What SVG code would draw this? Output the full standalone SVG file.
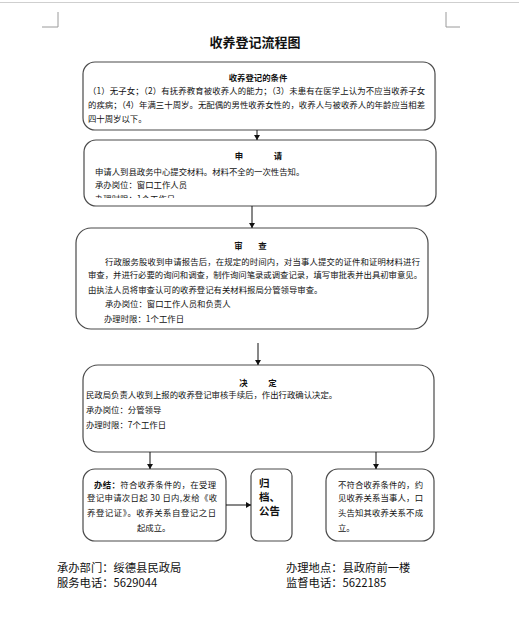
<svg xmlns="http://www.w3.org/2000/svg" width="519" height="627" viewBox="0 0 519 627">
<style>
text{font-family:"Noto Sans CJK SC","Noto Sans",sans-serif;fill:#111;}
.t{font-size:8.4px;}
.b{font-weight:bold;}
.box{fill:#fff;stroke:#4a4a4a;stroke-width:1.2;}
.con line{stroke:#111;stroke-width:1;}
.mark{stroke:#9a9a9a;stroke-width:1;fill:none;}
.ft{font-size:11.3px;}
</style>
<defs>
<marker id="ah" markerUnits="userSpaceOnUse" markerWidth="6" markerHeight="6" refX="5" refY="3" orient="auto">
<path d="M0,0 L5,3 L0,6 Z" fill="#111"/>
</marker>
<clipPath id="clip2"><rect x="84" y="188" width="350" height="10"/></clipPath>
</defs>
<rect x="0" y="0" width="519" height="627" fill="#fff"/>
<line x1="0" y1="2.5" x2="519" y2="2.5" stroke="#cfcfcf" stroke-width="1"/>
<path class="mark" d="M58,12 V27 H42"/>
<path class="mark" d="M446,12 V27 H460"/>
<text x="255" y="47" text-anchor="middle" style="font-size:13px;font-weight:bold">收养登记流程图</text>

<g id="conditions">
<rect class="box" x="83" y="62" width="352" height="68" rx="12"/>
<text class="t b" x="258" y="80.5" text-anchor="middle">收养登记的条件</text>
<text class="t" x="88" y="94" textLength="337" lengthAdjust="spacing">（1）无子女；（2）有抚养教育被收养人的能力；（3）未患有在医学上认为不应当收养子女</text>
<text class="t" x="88" y="108" textLength="337" lengthAdjust="spacing">的疾病；（4）年满三十周岁。无配偶的男性收养女性的，收养人与被收养人的年龄应当相差</text>
<text class="t" x="88" y="122">四十周岁以下。</text>
</g>

<g id="apply">
<rect class="box" x="84" y="140" width="352" height="66" rx="12"/>
<text class="t b" x="239" y="158.5" text-anchor="middle">申</text>
<text class="t b" x="278" y="158.5" text-anchor="middle">请</text>
<text class="t" x="95" y="174.5">申请人到县政务中心提交材料。材料不全的一次性告知。</text>
<text class="t" x="95" y="187.5">承办岗位：窗口工作人员</text>
<text class="t" x="95" y="202" clip-path="url(#clip2)">办理时限：1个工作日</text>
</g>

<g id="review">
<rect class="box" x="76" y="228" width="352" height="101" rx="15"/>
<text class="t b" x="238.5" y="248.5" text-anchor="middle">审</text>
<text class="t b" x="262.5" y="248.5" text-anchor="middle">查</text>
<text class="t" x="105" y="264.5" textLength="315" lengthAdjust="spacing">行政服务股收到申请报告后，在规定的时间内，对当事人提交的证件和证明材料进行</text>
<text class="t" x="88" y="278" textLength="334" lengthAdjust="spacing">审查，并进行必要的询问和调查，制作询问笔录或调查记录，填写审批表并出具初审意见。</text>
<text class="t" x="88" y="292.5">由执法人员将审查认可的收养登记有关材料报局分管领导审查。</text>
<text class="t" x="105" y="307">承办岗位：窗口工作人员和负责人</text>
<text class="t" x="104" y="322">办理时限：1个工作日</text>
</g>

<g id="decide">
<rect class="box" x="83" y="365" width="351" height="87" rx="15"/>
<text class="t b" x="243.5" y="385.5" text-anchor="middle">决</text>
<text class="t b" x="272.5" y="385.5" text-anchor="middle">定</text>
<text class="t" x="86" y="397.5">民政局负责人收到上报的收养登记审核手续后，作出行政确认决定。</text>
<text class="t" x="86" y="412.5">承办岗位：分管领导</text>
<text class="t" x="86" y="427.5">办理时限：7个工作日</text>
</g>

<g id="complete">
<rect class="box" x="83" y="469" width="143" height="72" rx="12"/>
<text class="t" x="94" y="487.5" textLength="122" lengthAdjust="spacing"><tspan class="b">办结：</tspan>符合收养条件的，在受理</text>
<text class="t" x="87" y="501" textLength="130" lengthAdjust="spacing">登记申请次日起 30 日内,发给《收</text>
<text class="t" x="87" y="515.5" textLength="129" lengthAdjust="spacing">养登记证》。收养关系自登记之日</text>
<text class="t" x="137" y="530.5">起成立。</text>
</g>

<g id="archive">
<rect class="box" x="251" y="469" width="41" height="72" rx="7"/>
<text style="font-size:10.5px;font-weight:bold"><tspan x="259" y="487">归</tspan><tspan x="259" y="501">档、</tspan><tspan x="259" y="515">公告</tspan></text>
</g>

<g id="reject">
<rect class="box" x="326" y="469" width="108" height="72" rx="12"/>
<text class="t" x="338" y="487.5" textLength="85" lengthAdjust="spacing">不符合收养条件的，约</text>
<text class="t" x="338" y="501" textLength="85" lengthAdjust="spacing">见收养关系当事人，口</text>
<text class="t" x="338" y="515.5" textLength="85" lengthAdjust="spacing">头告知其收养关系不成</text>
<text class="t" x="338" y="530.5">立。</text>
</g>

<g id="connectors" class="con">
<line x1="257" y1="130" x2="257" y2="140" marker-end="url(#ah)"/>
<line x1="252" y1="206" x2="252" y2="228" marker-end="url(#ah)"/>
<line x1="258" y1="343" x2="258" y2="365" marker-end="url(#ah)"/>
<line x1="150" y1="452" x2="150" y2="469" marker-end="url(#ah)"/>
<line x1="376" y1="452" x2="376" y2="469" marker-end="url(#ah)"/>
<line x1="226" y1="505" x2="251" y2="505" marker-end="url(#ah)"/>
</g>

<g id="footer">
<text class="ft" x="57" y="572">承办部门：绥德县民政局</text>
<text class="ft" x="57" y="587">服务电话：5629044</text>
<text class="ft" x="286" y="572">办理地点：县政府前一楼</text>
<text class="ft" x="286" y="587">监督电话：5622185</text>
</g>
</svg>
